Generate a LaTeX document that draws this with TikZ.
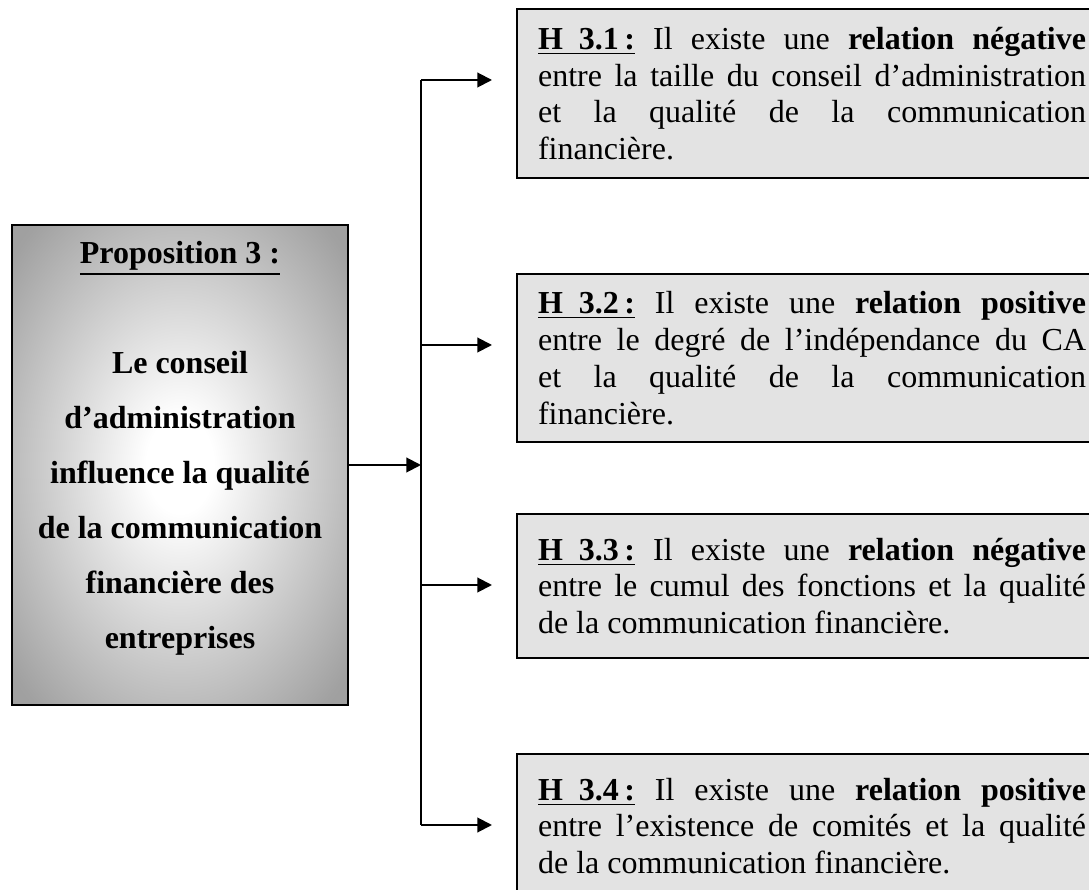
\documentclass[tikz,border=0pt]{standalone}
\usepackage{fontspec}
\setmainfont{Liberation Serif}
\usetikzlibrary{positioning}
\usetikzlibrary{calc}
\usetikzlibrary{arrows.meta}
\pgfdeclareradialshading{propshade}{\pgfpoint{0bp}{0bp}}{color(0bp)=(white); color(5bp)=(white); color(33bp)=(black!37); color(50bp)=(black!41)}
\newcommand{\hypo}[1]{\underline{\textbf{H\ \ #1\,:}}}
\setlength{\parindent}{0pt}

\begin{document}
\begin{tikzpicture}[x=0.375pt,y=-0.375pt,
    conn/.style={line width=0.75pt},
    arr/.style={line width=0.75pt,-{Triangle[length=5.5pt,width=5.5pt]}},
    propbox/.style={draw,line width=1pt,shading=propshade,minimum width=126pt,minimum height=180pt,inner sep=0pt},
    proptext/.style={font=\bfseries\fontsize{12pt}{20.6pt}\selectfont,align=center,inner sep=0pt},
    hypbox/.style={draw,line width=0.75pt,fill=black!11,anchor=north west,text width=205.5pt,align=justify,inner xsep=7.9pt,inner ysep=0pt,font=\fontsize{12pt}{13.8pt}\selectfont}]
    \useasboundingbox (0,0) rectangle (1089,890);
    \node[propbox] (prop) at (180,465) {};
    \node[proptext,below=6.4pt of prop.north] (proptxt) {\underline{Proposition 3 :}\\[20.6pt]Le conseil\\d’administration\\influence la qualité\\de la communication\\financière des\\entreprises};
    \node[hypbox,minimum height=63.4pt] (h1) at (516,8) {\hypo{3.1} Il existe une \textbf{relation négative}\linebreak entre la taille du conseil d’administration\linebreak et la qualité de la communication\linebreak financière.};
    \node[hypbox,minimum height=63pt] (h2) at (516,273) {\hypo{3.2} Il existe une \textbf{relation positive}\linebreak entre le degré de l’indépendance du CA\linebreak et la qualité de la communication\linebreak financière.};
    \node[hypbox,minimum height=54pt] (h3) at (516,513) {\hypo{3.3} Il existe une \textbf{relation négative}\linebreak entre le cumul des fonctions et la qualité\linebreak de la communication financière.\par\vspace{4.5pt}};
    \node[hypbox,minimum height=54pt] (h4) at (516,753) {\hypo{3.4} Il existe une \textbf{relation positive}\linebreak entre l’existence de comités et la qualité\linebreak de la communication financière.\par\vspace{4.5pt}};
    \coordinate (bus) at (421,465);
    \foreach \i in {1,...,4}
      \coordinate (t\i) at ($(h\i.north west)+(-24,72)$);
    \draw[conn] (t1 -| bus) -- (t4 -| bus);
    \draw[arr] (prop.east) -- (prop.east -| bus);
    \foreach \i in {1,...,4}
      \draw[arr] (t\i -| bus) -- (t\i);
\end{tikzpicture}
\end{document}
